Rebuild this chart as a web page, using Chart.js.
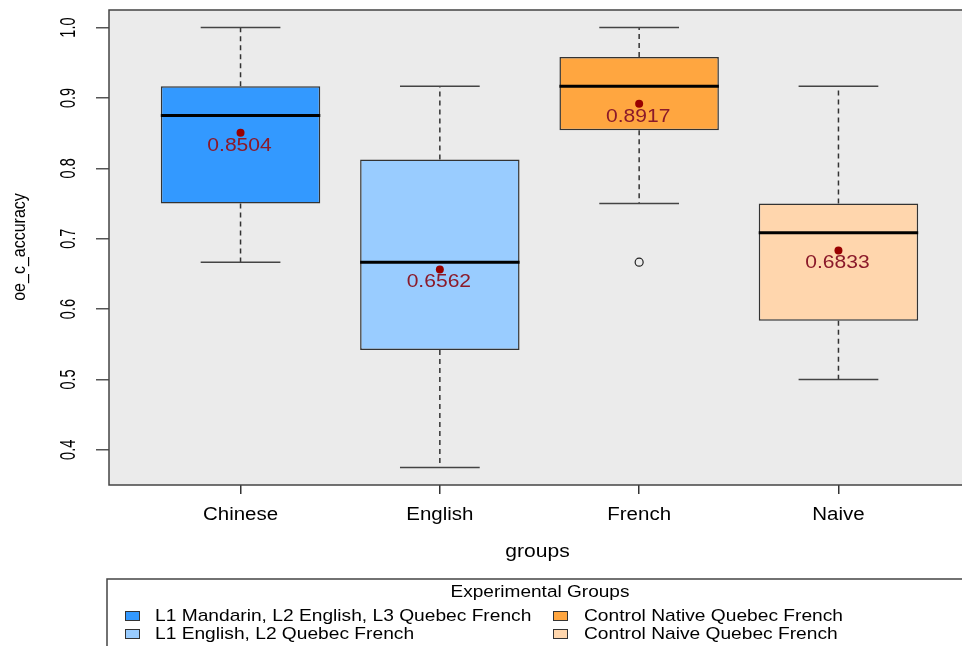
<!DOCTYPE html>
<html lang="en">

<head>
    <meta charset="UTF-8">
    <title>oe_c_accuracy by group</title>
    <style>
        html, body {
            margin: 0;
            padding: 0;
            background: #fff;
            overflow: hidden;
        }

        canvas {
            display: block;
        }
    </style>
</head>

<body>
    <canvas id="boxChart" width="980" height="646"></canvas>

    <script src="https://cdn.jsdelivr.net/npm/chart.js@4.4.1/dist/chart.umd.min.js"></script>
    <script>
        // groups on the x axis
        const groups = ["Chinese", "English", "French", "Naive"];
        const legendLabels = [
            "L1 Mandarin, L2 English, L3 Quebec French",
            "L1 English, L2 Quebec French",
            "Control Native Quebec French",
            "Control Naive Quebec French"
        ];
        const boxColors = ["#3399FF", "#99CCFF", "#FFA640", "#FFD6AD"];

        // box stats
        const q1 = [0.75, 0.5417, 0.8542, 0.5833];
        const q3 = [0.9167, 0.8125, 0.9583, 0.75];
        const medians = [0.875, 0.6667, 0.9167, 0.7083];
        const whiskerLow = [0.6667, 0.375, 0.75, 0.5];
        const whiskerHigh = [1.0, 0.9167, 1.0, 0.9167];
        const means = [0.8504, 0.6562, 0.8917, 0.6833];

        // outliers: group number (1-based) and value
        const outlierGroup = [3];
        const outlierValue = [0.6667];

        const yTicks = [0.4, 0.5, 0.6, 0.7, 0.8, 0.9, 1.0];

        const FONT = "'Liberation Sans', Arial, sans-serif";
        const SX = 1.17; // the picture is a bit wider than tall

        // text stretched sideways like the picture
        function putText(ctx, txt, x, y, size, opts) {
            opts = opts || {};
            ctx.save();
            ctx.translate(x, y);
            ctx.scale(opts.sx || SX, 1);
            if (opts.rot) ctx.rotate(opts.rot);
            ctx.font = size + "px " + FONT;
            ctx.fillStyle = opts.color || "#000";
            ctx.textAlign = opts.align || "center";
            ctx.textBaseline = opts.baseline || "middle";
            ctx.fillText(txt, 0, 0);
            ctx.restore();
        }

        const boxplotParts = {
            id: "boxplotParts",
            beforeDraw(chart) {
                const a = chart.chartArea;
                const ctx = chart.ctx;
                ctx.save();
                ctx.fillStyle = "#EBEBEB";
                ctx.fillRect(a.left, a.top, a.right - a.left, a.bottom - a.top);
                ctx.restore();
            },
            afterDatasetsDraw(chart) {
                const ctx = chart.ctx;
                const xs = chart.scales.x;
                const ys = chart.scales.y;
                const half = (xs.getPixelForValue(2) - xs.getPixelForValue(1)) * 0.4;
                const capHalf = half / 2;

                ctx.save();
                groups.forEach((g, i) => {
                    const cx = xs.getPixelForValue(i + 1);

                    // dashed whiskers
                    ctx.strokeStyle = "#333";
                    ctx.lineWidth = 1.5;
                    ctx.setLineDash([5, 4]);
                    ctx.beginPath();
                    ctx.moveTo(cx, ys.getPixelForValue(q3[i]));
                    ctx.lineTo(cx, ys.getPixelForValue(whiskerHigh[i]));
                    ctx.moveTo(cx, ys.getPixelForValue(q1[i]));
                    ctx.lineTo(cx, ys.getPixelForValue(whiskerLow[i]));
                    ctx.stroke();

                    // caps
                    ctx.setLineDash([]);
                    ctx.strokeStyle = "#444";
                    ctx.beginPath();
                    [whiskerHigh[i], whiskerLow[i]].forEach(v => {
                        const py = ys.getPixelForValue(v);
                        ctx.moveTo(cx - capHalf, py);
                        ctx.lineTo(cx + capHalf, py);
                    });
                    ctx.stroke();

                    // median
                    ctx.strokeStyle = "#000";
                    ctx.lineWidth = 3;
                    ctx.beginPath();
                    const my = ys.getPixelForValue(medians[i]);
                    ctx.moveTo(cx - half, my);
                    ctx.lineTo(cx + half, my);
                    ctx.stroke();

                    // mean label
                    putText(ctx, means[i].toFixed(4), cx - 1, ys.getPixelForValue(means[i]) + 13, 18, { color: "#8B1A2A" });
                });
                ctx.restore();
            },
            afterDraw(chart) {
                const ctx = chart.ctx;
                const a = chart.chartArea;
                const xs = chart.scales.x;
                const ys = chart.scales.y;

                // plot frame
                ctx.save();
                ctx.strokeStyle = "#444";
                ctx.lineWidth = 1.5;
                ctx.strokeRect(a.left, a.top, a.right - a.left, a.bottom - a.top);
                ctx.restore();

                // y tick labels, turned like R does
                ys.ticks.forEach(t => {
                    putText(ctx, t.value.toFixed(1), 69, ys.getPixelForValue(t.value), 14.5, { rot: -Math.PI / 2, sx: 1.5 });
                });
                putText(ctx, "oe_c_accuracy", 20, 247, 16, { rot: -Math.PI / 2 });

                // x tick labels
                xs.ticks.forEach((t, i) => {
                    putText(ctx, groups[i], xs.getPixelForValue(t.value), 515, 17.5);
                });
                putText(ctx, "groups", (a.left + a.right) / 2 - 2, 552, 18);

                // legend box
                ctx.save();
                ctx.strokeStyle = "#444";
                ctx.lineWidth = 1.5;
                ctx.strokeRect(107, 579, 900, 100);
                ctx.restore();
                putText(ctx, "Experimental Groups", 540, 593, 16.3);

                const colX = [125, 553];
                const textX = [155, 584];
                const rowY = [616, 634];
                legendLabels.forEach((lab, i) => {
                    const c = Math.floor(i / 2);
                    const r = i % 2;
                    ctx.save();
                    ctx.fillStyle = boxColors[i];
                    ctx.strokeStyle = "#333";
                    ctx.lineWidth = 1;
                    ctx.fillRect(colX[c], rowY[r] - 5, 15, 10);
                    ctx.strokeRect(colX[c] + 0.5, rowY[r] - 4.5, 14, 9);
                    ctx.restore();
                    putText(ctx, lab, textX[c], rowY[r], 16.4, { align: "left" });
                });
            }
        };

        const ctx = document.getElementById("boxChart");
        new Chart(ctx, {
            type: "bar",
            data: {
                datasets: [{
                    type: "scatter",
                    label: "mean",
                    data: means.map((m, i) => ({ x: i + 1, y: m })),
                    pointStyle: "circle",
                    pointRadius: 4,
                    backgroundColor: "#990000",
                    borderWidth: 0,
                    order: 1
                },
                {
                    type: "scatter",
                    label: "outlier",
                    data: outlierValue.map((v, i) => ({ x: outlierGroup[i], y: v })),
                    pointStyle: "circle",
                    pointRadius: 4,
                    backgroundColor: "rgba(0,0,0,0)",
                    borderColor: "#222",
                    borderWidth: 1.2,
                    order: 1
                },
                {
                    type: "bar",
                    label: "box",
                    data: groups.map((g, i) => ({ x: i + 1, y: [q1[i], q3[i]] })),
                    backgroundColor: boxColors,
                    borderColor: "#333",
                    borderWidth: 1.5,
                    borderSkipped: false,
                    barPercentage: 0.8,
                    categoryPercentage: 1.0,
                    order: 3
                }]
            },
            options: {
                responsive: false,
                animation: false,
                layout: {
                    padding: { top: 10, right: 10, left: 0, bottom: 0 }
                },
                plugins: {
                    legend: { display: false },
                    tooltip: { enabled: false }
                },
                scales: {
                    x: {
                        type: "linear",
                        min: 0.34,
                        max: 4.66,
                        offset: false,
                        afterBuildTicks: s => { s.ticks = groups.map((g, i) => ({ value: i + 1 })); },
                        afterFit: s => { s.height = 161; },
                        ticks: { display: false },
                        border: { display: false },
                        grid: {
                            offset: false,
                            drawOnChartArea: false,
                            drawTicks: true,
                            tickLength: 9,
                            color: "#333",
                            lineWidth: 1.5
                        }
                    },
                    y: {
                        type: "linear",
                        min: 0.35,
                        max: 1.025,
                        afterBuildTicks: s => { s.ticks = yTicks.map(v => ({ value: v })); },
                        afterFit: s => { s.width = 109; },
                        ticks: { display: false },
                        border: { display: false },
                        grid: {
                            drawOnChartArea: false,
                            drawTicks: true,
                            tickLength: 13,
                            color: "#555",
                            lineWidth: 1.5
                        }
                    }
                }
            },
            plugins: [boxplotParts]
        });
    </script>
</body>

</html>
